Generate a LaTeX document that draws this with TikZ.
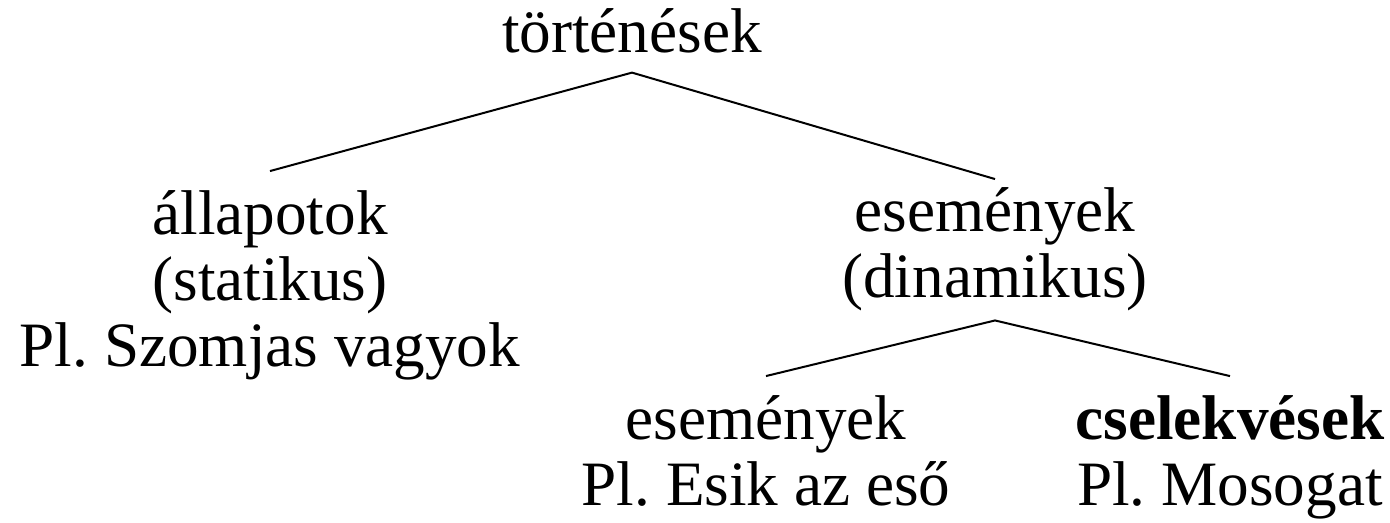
\documentclass[tikz,border=0pt]{standalone}
\usepackage{fontspec}
\setmainfont{Liberation Serif}
\frenchspacing
\begin{document}
\begin{tikzpicture}[x=0.5pt,y=-0.5pt,
  word/.style={align=center,inner sep=0pt,outer sep=9.5pt,anchor=base,font=\fontsize{31.6}{33}\selectfont},
  branch/.style={line width=1pt}]
\useasboundingbox (0,0) rectangle (1390,523);

\node[word] (tortenes) at (632,53) {történések};
\node[word] (allapot) at (270,366) {állapotok\\(statikus)\\Pl. Szomjas vagyok};
\node[word,outer sep=4.5pt] (esemeny) at (995,298) {események\\(dinamikus)};
\node[word] (esemenyek) at (766,505) {események\\Pl. Esik az eső};
\node[word] (cselekves) at (1230,505) {\textbf{cselekvések}\\Pl. Mosogat};

\draw[branch] (allapot.north) -- (tortenes.south) -- (esemeny.north);
\draw[branch] (esemenyek.north) -- (esemeny.south) -- (cselekves.north);
\end{tikzpicture}
\end{document}
